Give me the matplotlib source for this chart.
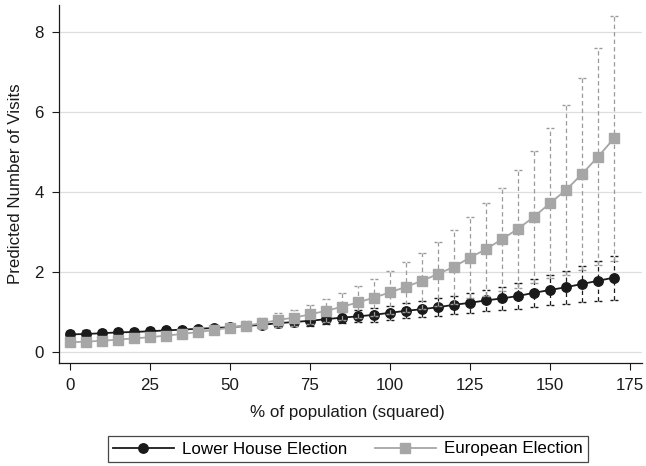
import matplotlib
matplotlib.use("Agg")
import matplotlib.pyplot as plt
from matplotlib.lines import Line2D

plt.rcParams['font.family'] = ['Liberation Sans', 'DejaVu Sans']

x = [0, 5, 10, 15, 20, 25, 30, 35, 40, 45, 50, 55, 60, 65, 70, 75, 80, 85, 90,
     95, 100, 105, 110, 115, 120, 125, 130, 135, 140, 145, 150, 155, 160, 165, 170]

lower_house = [0.44, 0.45, 0.47, 0.49, 0.50, 0.52, 0.54, 0.56, 0.58, 0.60, 0.62, 0.65,
               0.68, 0.72, 0.75, 0.78, 0.82, 0.86, 0.89, 0.93, 0.98, 1.03, 1.07, 1.12,
               1.18, 1.23, 1.29, 1.34, 1.40, 1.48, 1.55, 1.62, 1.70, 1.78, 1.86]
lower_house_lo = [0.35, 0.37, 0.39, 0.41, 0.43, 0.45, 0.47, 0.49, 0.51, 0.52, 0.54, 0.56,
                  0.59, 0.62, 0.64, 0.66, 0.69, 0.72, 0.74, 0.76, 0.80, 0.84, 0.87, 0.90,
                  0.95, 0.98, 1.02, 1.05, 1.08, 1.13, 1.17, 1.21, 1.25, 1.28, 1.31]
lower_house_hi = [0.53, 0.54, 0.55, 0.57, 0.57, 0.59, 0.61, 0.63, 0.65, 0.68, 0.70, 0.74,
                  0.77, 0.82, 0.86, 0.90, 0.95, 1.00, 1.05, 1.10, 1.16, 1.22, 1.27, 1.34,
                  1.41, 1.48, 1.56, 1.63, 1.72, 1.83, 1.93, 2.03, 2.15, 2.28, 2.41]

european = [0.24, 0.26, 0.28, 0.31, 0.34, 0.37, 0.41, 0.45, 0.50, 0.55, 0.61, 0.66,
            0.72, 0.80, 0.86, 0.94, 1.03, 1.13, 1.24, 1.36, 1.49, 1.63, 1.78, 1.95,
            2.13, 2.36, 2.57, 2.82, 3.08, 3.38, 3.72, 4.05, 4.45, 4.88, 5.34]
european_lo = [0.15, 0.18, 0.20, 0.23, 0.27, 0.30, 0.34, 0.37, 0.42, 0.46, 0.51, 0.54,
               0.58, 0.63, 0.66, 0.70, 0.74, 0.79, 0.84, 0.89, 0.95, 1.00, 1.08, 1.16,
               1.21, 1.35, 1.41, 1.53, 1.61, 1.73, 1.85, 1.92, 2.05, 2.17, 2.27]
european_hi = [0.33, 0.35, 0.36, 0.39, 0.42, 0.45, 0.49, 0.53, 0.59, 0.64, 0.71, 0.78,
               0.86, 0.97, 1.06, 1.18, 1.32, 1.47, 1.64, 1.83, 2.03, 2.26, 2.48, 2.74,
               3.05, 3.37, 3.73, 4.11, 4.55, 5.03, 5.59, 6.18, 6.85, 7.59, 8.41]

xticks = [0, 25, 50, 75, 100, 125, 150, 175]
yticks = [0, 2, 4, 6, 8]

BLACK = '#1a1a1a'
GRAY = '#a6a6a6'
GRAY_DASH = '#9a9a9a'
FS = 12.2

W, H = 646, 466
fig = plt.figure(figsize=(W / 100, H / 100), dpi=100)
L, R, T, B = 59, 642, 5, 363
ax = fig.add_axes([L / W, (H - B) / H, (R - L) / W, (B - T) / H])

ax.set_xlim(-3.44, 178.75)
ax.set_ylim(-0.275, 8.675)

for yv in yticks:
    ax.axhline(yv, color='#dedede', lw=0.9, zorder=0)

cap = 1.4
dash = (0, (3.5, 2.5))


def draw_ci(lo, hi, color, z):
    ax.vlines(x, lo, hi, colors=color, linestyles=[dash], lw=0.9, zorder=z)
    ax.hlines(lo, [v - cap for v in x], [v + cap for v in x], colors=color,
              linestyles=[(0, (2.2, 1.3))], lw=1.0, zorder=z)
    ax.hlines(hi, [v - cap for v in x], [v + cap for v in x], colors=color,
              linestyles=[(0, (2.2, 1.3))], lw=1.0, zorder=z)


draw_ci(lower_house_lo, lower_house_hi, BLACK, 2)
ax.plot(x, lower_house, color=BLACK, lw=1.3, marker='o', ms=6.8, mfc=BLACK, mec=BLACK, zorder=3)
draw_ci(european_lo, european_hi, GRAY_DASH, 4)
ax.plot(x, european, color=GRAY, lw=1.3, marker='s', ms=6.6, mfc=GRAY, mec=GRAY, zorder=5)

ax.set_xticks(xticks)
ax.set_yticks(yticks)
ax.tick_params(axis='both', direction='out', length=5, width=0.8, color=BLACK,
               labelsize=FS, labelcolor=BLACK, pad=6)
for s in ['top', 'right']:
    ax.spines[s].set_visible(False)
for s in ['left', 'bottom']:
    ax.spines[s].set_color(BLACK)
    ax.spines[s].set_linewidth(0.9)

ax.set_ylabel('Predicted Number of Visits', fontsize=FS, color=BLACK, labelpad=8)
fig.text(347 / W, 1 - 412 / H, '% of population (squared)', ha='center', va='center',
         fontsize=FS, color=BLACK)

handles = [
    Line2D([], [], color=BLACK, lw=1.3, marker='o', ms=6.8, mfc=BLACK, mec=BLACK),
    Line2D([], [], color=GRAY, lw=1.3, marker='s', ms=6.6, mfc=GRAY, mec=GRAY),
]
leg = fig.legend(handles, ['Lower House Election', 'European Election'],
                 loc='center', bbox_to_anchor=(348 / W, 1 - 449 / H), ncol=2,
                 fontsize=FS, frameon=True, fancybox=False, handlelength=3.6,
                 handletextpad=0.5, columnspacing=1.6, borderpad=0.3,
                 edgecolor=BLACK)
leg.get_frame().set_linewidth(0.9)

fig.savefig('out.png', dpi=100)
